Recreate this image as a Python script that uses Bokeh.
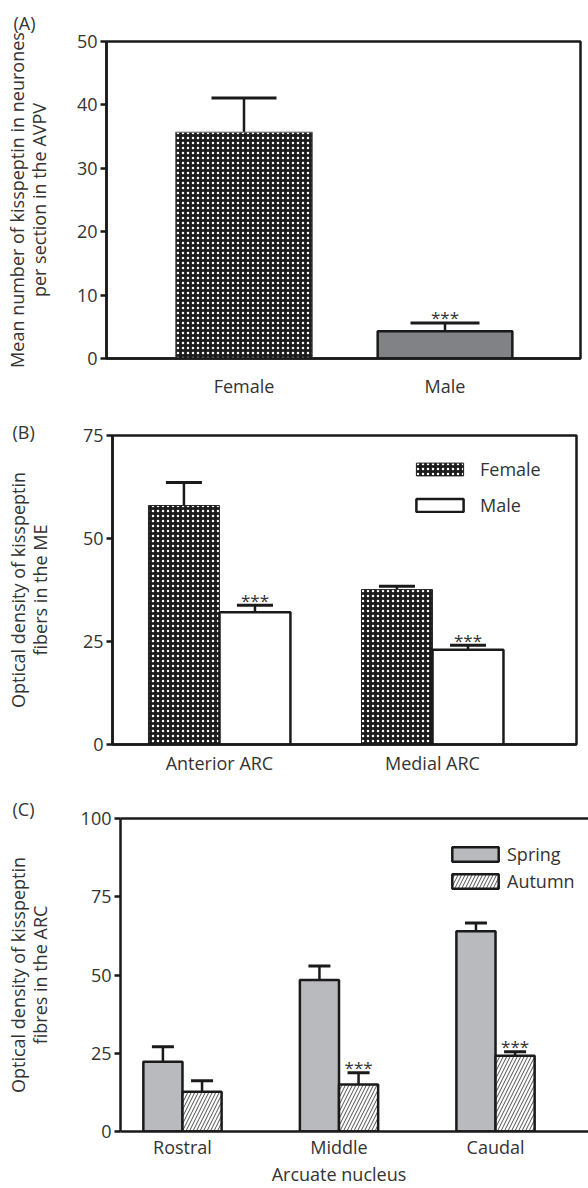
from bokeh.plotting import figure
from bokeh.models import (Range1d, FixedTicker, LinearAxis, Whisker, ColumnDataSource,
                          Legend, LegendItem, TeeHead)
from bokeh.layouts import column
from bokeh.embed import file_html
from bokeh.resources import INLINE
from bokeh.core.properties import value
from bokeh.transform import dodge

FONT = "Open Sans"
TXT = "#333333"
INK = "#1a1a1a"

# ---------------- data ----------------
# Panel A
a_categories = ["Female", "Male"]
a_means = [35.7, 4.3]
a_sem = [5.4, 1.3]
a_sig = ["", "***"]
a_yticks = [0, 10, 20, 30, 40, 50]

# Panel B
b_regions = ["Anterior ARC", "Medial ARC"]
b_female = [58.0, 37.6]
b_female_sem = [5.6, 0.8]
b_male = [32.1, 23.0]
b_male_sem = [1.7, 1.1]
b_male_sig = ["***", "***"]
b_yticks = [0, 25, 50, 75]

# Panel C
c_levels = ["Rostral", "Middle", "Caudal"]
c_spring = [22.3, 48.4, 64.0]
c_spring_sem = [4.8, 4.5, 2.6]
c_autumn = [12.7, 15.0, 24.2]
c_autumn_sem = [3.5, 3.8, 1.3]
c_autumn_sig = ["", "***", "***"]
c_yticks = [0, 25, 50, 75, 100]
c_xtitle = "Arcuate nucleus"

DOTS = dict(fill_color="#1c1c1c", hatch_pattern="dot", hatch_color="white",
            hatch_scale=5, hatch_weight=1.6)


def style(p, yticks, ylabel, label_standoff, x_labels, x_standoff, tag, tag_offset, tag_standoff):
    p.background_fill_color = "white"
    p.border_fill_color = "white"
    p.xgrid.visible = False
    p.ygrid.visible = False
    for ax in p.yaxis:
        ax.ticker = FixedTicker(ticks=yticks)
        ax.axis_line_width = 2.5
        ax.axis_line_color = INK
        ax.major_tick_line_width = 2.5
        ax.major_tick_line_color = INK
        ax.major_tick_out = 6
        ax.major_tick_in = 0
        ax.minor_tick_line_color = None
        ax.major_label_text_font = FONT
        ax.major_label_text_font_size = "18px"
        ax.major_label_text_color = TXT
        ax.major_label_standoff = 3
        ax.axis_label = ylabel
        ax.axis_label_text_font = FONT
        ax.axis_label_text_font_size = "18px"
        ax.axis_label_text_font_style = "normal"
        ax.axis_label_text_color = TXT
        ax.axis_label_text_line_height = 0.92
        ax.axis_label_standoff = label_standoff
    for ax in p.xaxis:
        ax.ticker = FixedTicker(ticks=list(range(len(x_labels))))
        ax.major_label_overrides = {i: s for i, s in enumerate(x_labels)}
        ax.axis_line_width = 2.5
        ax.axis_line_color = INK
        ax.major_tick_line_color = None
        ax.major_tick_out = 0
        ax.major_tick_in = 0
        ax.minor_tick_line_color = None
        ax.major_label_text_font = FONT
        ax.major_label_text_font_size = "18px"
        ax.major_label_text_color = TXT
        ax.major_label_standoff = x_standoff
    p.title.text = tag
    p.title.align = "left"
    p.title.offset = tag_offset
    p.title.standoff = tag_standoff
    p.title.text_font = FONT
    p.title.text_font_size = "18px"
    p.title.text_font_style = "normal"
    p.title.text_color = TXT


# ---------------- Panel A ----------------
pa = figure(width=588, height=403, x_range=Range1d(-0.684, 1.674), y_range=Range1d(0, 50),
            output_backend="svg", toolbar_location=None, frame_align=False,
            min_border_left=106, min_border_right=8, min_border_top=41, min_border_bottom=45)
style(pa, a_yticks, "Mean number of kisspeptin in neurones\nper section in the AVPV", 23,
      a_categories, 15, "(A)", -93, 13)
pa.outline_line_color = INK
pa.outline_line_width = 2.5
pa.outline_line_alpha = 1

xa = list(range(len(a_categories)))
src_a0 = ColumnDataSource(dict(x=[xa[0]], top=[a_means[0]], upper=[a_means[0] + a_sem[0]]))
src_a1 = ColumnDataSource(dict(x=[xa[1]], top=[a_means[1]], upper=[a_means[1] + a_sem[1]],
                               sig=[a_sig[1]]))
pa.vbar(x="x", top="top", width=0.68, bottom=0, source=src_a0, line_color="#666666",
        line_width=1, **DOTS)
pa.vbar(x="x", top="top", width=0.67, bottom=0, source=src_a1, fill_color="#818286",
        line_color=INK, line_width=2.5)
for s, cap in ((src_a0, 65), (src_a1, 69)):
    pa.add_layout(Whisker(source=s, base="x", lower="top", upper="upper",
                          line_color=INK, line_width=2.5, lower_head=None,
                          upper_head=TeeHead(size=cap, line_width=3, line_color=INK)))
pa.text(x="x", y="upper", text="sig", source=src_a1, text_font=value(FONT),
        text_font_size="17px", text_color=TXT, text_align="center",
        text_baseline="alphabetic", y_offset=-5)

# ---------------- Panel B ----------------
pb = figure(width=588, height=387, x_range=Range1d(-0.502, 1.676), y_range=Range1d(0, 75),
            output_backend="svg", toolbar_location=None, frame_align=False,
            min_border_left=112, min_border_right=12, min_border_top=32, min_border_bottom=46)
style(pb, b_yticks, "Optical density of kisspeptin\nfibers in the ME", 28, b_regions, 6,
      "(B)", -100, -17)
pb.outline_line_color = INK
pb.outline_line_width = 2.5
pb.outline_line_alpha = 1

src_b = ColumnDataSource(dict(
    x=list(range(len(b_regions))),
    f=b_female, fu=[m + e for m, e in zip(b_female, b_female_sem)],
    m=b_male, mu=[m + e for m, e in zip(b_male, b_male_sem)],
    sig=b_male_sig))
rbf = pb.vbar(x=dodge("x", -0.1667, range=pb.x_range), top="f", width=0.333, bottom=0,
              source=src_b, line_color="#222222", line_width=1, **DOTS)
rbm = pb.vbar(x=dodge("x", 0.1667, range=pb.x_range), top="m", width=0.333, bottom=0,
              source=src_b, fill_color="white", line_color=INK, line_width=2.5)
pb.add_layout(Whisker(source=src_b, base=dodge("x", -0.1667, range=pb.x_range), lower="f",
                      upper="fu", line_color=INK, line_width=2.5, lower_head=None,
                      upper_head=TeeHead(size=36, line_width=3, line_color=INK)))
pb.add_layout(Whisker(source=src_b, base=dodge("x", 0.1667, range=pb.x_range), lower="m",
                      upper="mu", line_color=INK, line_width=2.5, lower_head=None,
                      upper_head=TeeHead(size=36, line_width=3, line_color=INK)))
pb.text(x=dodge("x", 0.1667, range=pb.x_range), y="mu", text="sig", source=src_b,
        text_font=value(FONT), text_font_size="17px", text_color=TXT, text_align="center",
        text_baseline="alphabetic", y_offset=-5)
leg_b = Legend(items=[LegendItem(label="Female", renderers=[rbf]),
                      LegendItem(label="Male", renderers=[rbm])],
               location=(298, 227), padding=0, spacing=12, glyph_width=59, glyph_height=16,
               label_standoff=11, border_line_color=None, background_fill_alpha=0,
               label_text_font=FONT, label_text_font_size="18px", label_text_color=TXT)
pb.add_layout(leg_b, "center")

# ---------------- Panel C ----------------
pc = figure(width=588, height=398, x_range=Range1d(-0.396, 2.594), y_range=Range1d(0, 100),
            output_backend="svg", toolbar_location=None, frame_align=False,
            min_border_left=120, min_border_right=0, min_border_top=28, min_border_bottom=56)
style(pc, c_yticks, "Optical density of kisspeptin\nfibres in the ARC", 26, c_levels, 3,
      "(C)", -108, -4)
pc.outline_line_color = None
top_axis = LinearAxis(ticker=FixedTicker(ticks=[]), axis_line_width=2.5, axis_line_color=INK,
                      major_tick_line_color=None, minor_tick_line_color=None,
                      major_tick_out=0, major_tick_in=0, major_label_standoff=0,
                      major_label_text_font_size="0px")
pc.add_layout(top_axis, "above")
title_axis = LinearAxis(ticker=FixedTicker(ticks=[1]), major_label_overrides={1: c_xtitle},
                        axis_line_color=None, major_tick_line_color=None,
                        minor_tick_line_color=None, major_tick_out=0, major_tick_in=0,
                        major_label_standoff=0, major_label_text_font=FONT,
                        major_label_text_font_size="18px", major_label_text_color=TXT)
pc.add_layout(title_axis, "below")

src_c = ColumnDataSource(dict(
    x=list(range(len(c_levels))),
    s=c_spring, su=[m + e for m, e in zip(c_spring, c_spring_sem)],
    a=c_autumn, au=[m + e for m, e in zip(c_autumn, c_autumn_sem)],
    sig=c_autumn_sig))
rcs = pc.vbar(x=dodge("x", -0.125, range=pc.x_range), top="s", width=0.25, bottom=0,
              source=src_c, fill_color="#b9babd", line_color=INK, line_width=2.5)
rca = pc.vbar(x=dodge("x", 0.125, range=pc.x_range), top="a", width=0.25, bottom=0,
              source=src_c, fill_color="white", hatch_pattern="/", hatch_color="#222222",
              hatch_scale=7, hatch_weight=0.8, line_color=INK, line_width=2.5)
pc.add_layout(Whisker(source=src_c, base=dodge("x", -0.125, range=pc.x_range), lower="s",
                      upper="su", line_color=INK, line_width=2.5, lower_head=None,
                      upper_head=TeeHead(size=22, line_width=3, line_color=INK)))
pc.add_layout(Whisker(source=src_c, base=dodge("x", 0.125, range=pc.x_range), lower="a",
                      upper="au", line_color=INK, line_width=2.5, lower_head=None,
                      upper_head=TeeHead(size=22, line_width=3, line_color=INK)))
pc.text(x=dodge("x", 0.125, range=pc.x_range), y="au", text="sig", source=src_c,
        text_font=value(FONT), text_font_size="17px", text_color=TXT, text_align="center",
        text_baseline="alphabetic", y_offset=-5)
leg_c = Legend(items=[LegendItem(label="Spring", renderers=[rcs]),
                      LegendItem(label="Autumn", renderers=[rca])],
               location=(326, 238), padding=0, spacing=3, glyph_width=58, glyph_height=18,
               label_standoff=3, border_line_color=None, background_fill_alpha=0,
               label_text_font=FONT, label_text_font_size="18px", label_text_color=TXT)
pc.add_layout(leg_c, "center")

layout = column(pa, pb, pc)
open("out.html", "w").write(file_html(layout, INLINE))
